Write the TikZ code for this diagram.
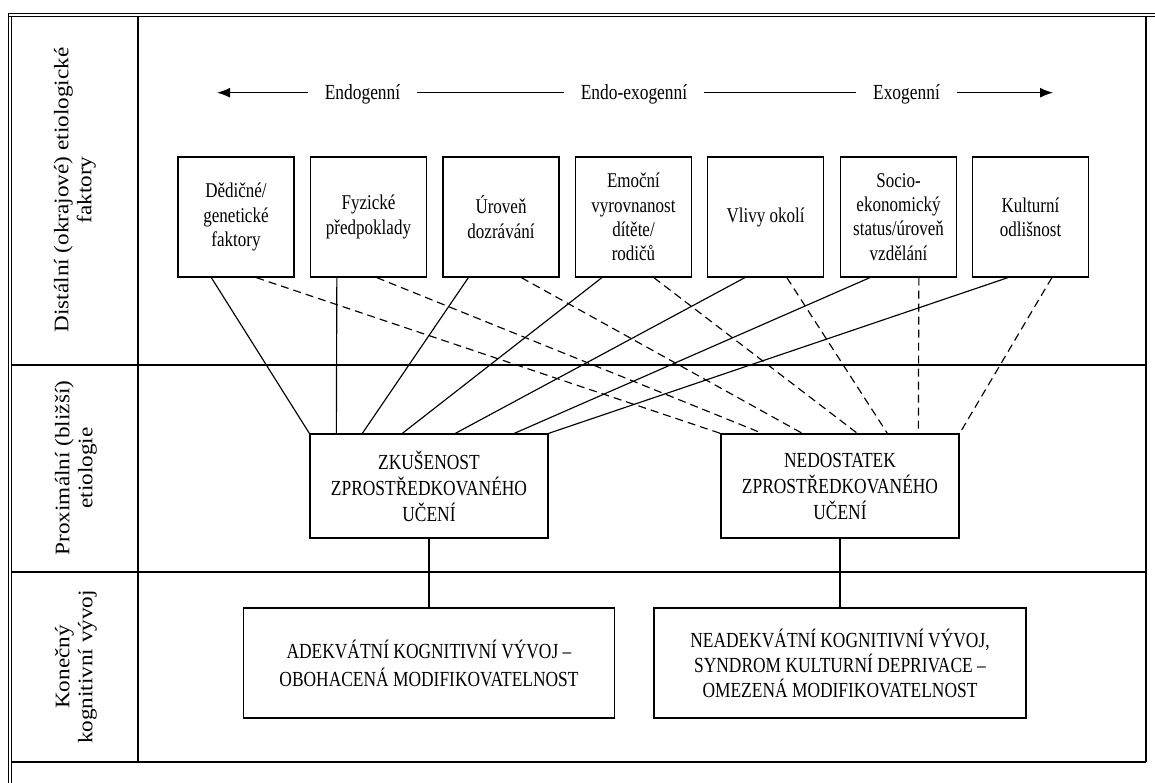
\documentclass[tikz,border=0pt]{standalone}
\usepackage{fontspec}
\setmainfont{Liberation Serif}[FakeStretch=0.81]
\newfontfamily\rotfont{Liberation Serif}[FakeStretch=1.12]
\usetikzlibrary{arrows.meta}
\begin{document}
\begin{tikzpicture}[x=1pt,y=-1pt,
  frame/.style={line width=1.3pt},
  factor/.style={draw, line width=1.3pt, minimum width=116pt, minimum height=120pt, inner sep=2pt, align=center, font=\fontsize{21}{24.3}\selectfont},
  midbox/.style={draw, line width=1.3pt, minimum width=238pt, minimum height=104pt, align=center, font=\fontsize{21.5}{26}\selectfont},
  endbox/.style={draw, line width=1.3pt, minimum width=371pt, minimum height=110pt, align=center},
  lab/.style={inner xsep=17pt, inner ysep=0pt, text height=18pt, text depth=3.4pt, font=\fontsize{21.5}{24}\selectfont},
  rowlab/.style={rotate=90, align=center, font=\rotfont\fontsize{20.7}{23}\selectfont},
  sol/.style={line width=1.15pt},
  das/.style={line width=1.15pt, dash pattern=on 8pt off 5pt},
  arr/.style={line width=1.2pt, -{Latex[length=13pt,width=10pt]}}
]
\useasboundingbox (0,0) rectangle (1155,783);

% frame of the table
\draw[frame] (8,13.7) -- (1155,13.7);
\draw[frame] (8,16.2) -- (1155,16.2);
\draw[frame] (8.7,13) -- (8.7,783);
\draw[frame] (11.2,16) -- (11.2,783);
\draw[frame] (1146,16) -- (1146,762);
\draw[frame] (11,762) -- (1146,762);
\draw[frame] (11,365) -- (1146,365);
\draw[frame] (11,572) -- (1146,572);
\draw[frame] (138,16) -- (138,762);

% row labels
\node[rowlab] (r1) at (75,190) {Distální (okrajové) etiologické\\faktory};
\node[rowlab] (r2) at (76,468) {Proximální (bližší)\\etiologie};
\node[rowlab] (r3) at (76,667) {Konečný\\kognitivní vývoj};

% scale of factors
\node[lab] (en) at (362.5,92.7) {Endogenní};
\node[lab] (enex) at (634,92.7) {Endo-exogenní};
\node[lab] (ex) at (906.5,92.7) {Exogenní};
\coordinate (al) at (217,92.7);
\coordinate (ar) at (1053,92.7);
\draw[arr] (en.west) -- (al);
\draw[sol, line width=1.2pt] (en.east) -- (enex.west);
\draw[sol, line width=1.2pt] (enex.east) -- (ex.west);
\draw[arr] (ex.east) -- (ar);

% distal factors
\node[factor] (b1) at (236,217) {Dědičné/\\genetické\\faktory};
\node[factor] (b2) at (368.5,217) {Fyzické\\předpoklady};
\node[factor] (b3) at (501,217) {Úroveň\\dozrávání};
\node[factor] (b4) at (633.5,217) {Emoční\\vyrovnanost\\dítěte/\\rodičů};
\node[factor] (b5) at (765.5,217) {Vlivy okolí};
\node[factor] (b6) at (898.5,217) {Socio-\\ekonomický\\status/úroveň\\vzdělání};
\node[factor] (b7) at (1030.5,217) {Kulturní\\odlišnost};

% proximal
\node[midbox] (zk) at (429,486) {ZKUŠENOST\\ZPROSTŘEDKOVANÉHO\\UČENÍ};
\node[midbox] (ned) at (840,486) {NEDOSTATEK\\ZPROSTŘEDKOVANÉHO\\UČENÍ};

% outcomes
\node[endbox, font=\fontsize{21.5}{28}\selectfont] (ad) at (429,663) {ADEKVÁTNÍ KOGNITIVNÍ VÝVOJ –\\OBOHACENÁ MODIFIKOVATELNOST};
\node[endbox, minimum width=372pt, font=\fontsize{21.5}{25}\selectfont] (nad) at (840,663) {NEADEKVÁTNÍ KOGNITIVNÍ VÝVOJ,\\SYNDROM KULTURNÍ DEPRIVACE –\\OMEZENÁ MODIFIKOVATELNOST};

% solid connectors
\draw[sol] ([xshift=34]b1.south west) -- (zk.north west);
\draw[sol] ([xshift=27]b2.south west) -- ([xshift=27]zk.north west);
\draw[sol] ([xshift=26]b3.south west) -- ([xshift=53]zk.north west);
\draw[sol] ([xshift=27]b4.south west) -- ([xshift=93]zk.north west);
\draw[sol] ([xshift=38]b5.south west) -- ([xshift=146]zk.north west);
\draw[sol] ([xshift=30]b6.south west) -- ([xshift=205]zk.north west);
\draw[sol] ([xshift=36]b7.south west) -- (zk.north east);

% dashed connectors
\draw[das] ([xshift=79]b1.south west) -- (ned.north west);
\draw[das] ([xshift=67]b2.south west) -- ([xshift=42]ned.north west);
\draw[das] ([xshift=79]b3.south west) -- ([xshift=82]ned.north west);
\draw[das] ([xshift=79]b4.south west) -- ([xshift=137]ned.north west);
\draw[das] ([xshift=80]b5.south west) -- ([xshift=167]ned.north west);
\draw[das] ([xshift=79]b6.south west) -- ([xshift=198]ned.north west);
\draw[das] ([xshift=80]b7.south west) -- (ned.north east);

% to outcomes
\draw[sol] (zk.south) -- (ad.north);
\draw[sol] (ned.south) -- (nad.north);
\end{tikzpicture}
\end{document}
